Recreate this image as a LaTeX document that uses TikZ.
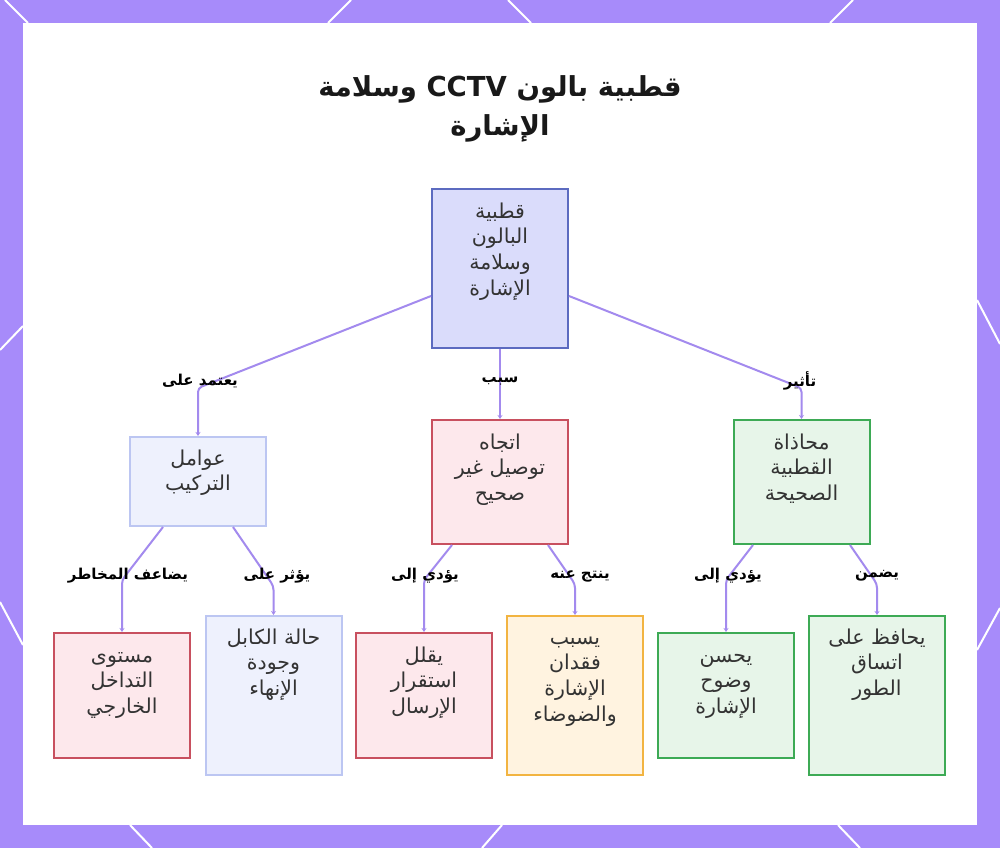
\documentclass[tikz,border=0pt]{standalone}
\usepackage{fontspec}
\newfontfamily\arabicfont[Script=Arabic]{DejaVu Sans}
\TeXXeTstate=1
\usetikzlibrary{arrows.meta}
\definecolor{framec}{HTML}{A78BFA}
\definecolor{linec}{HTML}{A38AEE}
\definecolor{rootfill}{HTML}{DADCFB}
\definecolor{rootdraw}{HTML}{5C6BC0}
\definecolor{bluefill}{HTML}{EEF1FD}
\definecolor{bluedraw}{HTML}{BCC6F2}
\definecolor{pinkfill}{HTML}{FDE8EC}
\definecolor{reddraw}{HTML}{C8505F}
\definecolor{greenfill}{HTML}{E7F5E9}
\definecolor{greendraw}{HTML}{3DAA55}
\definecolor{orangefill}{HTML}{FFF3E0}
\definecolor{orangedraw}{HTML}{F2B441}
\definecolor{textc}{HTML}{333333}
\newcommand{\ar}[1]{\beginR #1\endR}
\newcommand{\fl}{\rule{0pt}{16pt}}
\tikzset{
  boxbase/.style={draw, line width=2pt, minimum width=136pt, inner sep=0pt},
  rootbox/.style={boxbase, fill=rootfill, draw=rootdraw},
  bluebox/.style={boxbase, fill=bluefill, draw=bluedraw},
  pinkbox/.style={boxbase, fill=pinkfill, draw=reddraw},
  greenbox/.style={boxbase, fill=greenfill, draw=greendraw},
  orangebox/.style={boxbase, fill=orangefill, draw=orangedraw},
  txt/.style={font=\arabicfont\fontsize{20.5}{25.7}\selectfont, align=center, anchor=north, inner sep=0pt, text=textc},
  elab/.style={font=\arabicfont\bfseries\fontsize{15}{17}\selectfont, inner sep=1pt, text=black},
  titlestyle/.style={font=\arabicfont\bfseries\fontsize{27.5}{39}\selectfont, align=center, inner sep=0pt, text=black!90},
  conn/.style={draw=linec, line width=2pt, rounded corners=4pt, -{Stealth[length=4pt,width=5pt]}},
  deco/.style={draw=white, line width=2pt}
}
\begin{document}
\begin{tikzpicture}[x=1pt,y=-1pt]
\useasboundingbox (0,0) rectangle (1000,848);
\fill[framec] (0,0) rectangle (1000,848);
% frame decorations
\draw[deco] (5,0) -- (28,23);
\draw[deco] (351,0) -- (328,23);
\draw[deco] (508,0) -- (531,23);
\draw[deco] (853,0) -- (830,23);
\draw[deco] (0,350) -- (23,326);
\draw[deco] (0,602) -- (23,645);
\draw[deco] (977,300) -- (1000,344);
\draw[deco] (977,650) -- (1000,608);
\draw[deco] (130,825) -- (152,848);
\draw[deco] (502,825) -- (482,848);
\draw[deco] (838,825) -- (860,848);
\fill[white] (23,23) rectangle (977,825);

% title
\node[titlestyle] (title) at (500,109) {\ar{قطبية بالون \beginL CCTV\endL{} وسلامة}\\\ar{الإشارة}};

% boxes
\node[rootbox, minimum height=159pt] (root) at (500,268.5) {};
\node[bluebox, minimum height=89pt] (inst) at (198,481.5) {};
\node[pinkbox, minimum height=124pt] (wrong) at (500,482) {};
\node[greenbox, minimum height=124pt] (right) at (801.5,482) {};
\node[pinkbox, minimum height=125pt] (l1) at (122,695.5) {};
\node[bluebox, minimum height=159pt] (l2) at (273.5,695.5) {};
\node[pinkbox, minimum height=125pt] (l3) at (424,695.5) {};
\node[orangebox, minimum height=159pt] (l4) at (575,695.5) {};
\node[greenbox, minimum height=125pt] (l5) at (726,695.5) {};
\node[greenbox, minimum height=159pt] (l6) at (877,695.5) {};

% texts
\node[txt] (rootT) at (500,202) {\fl\ar{قطبية}\\\ar{البالون}\\\ar{وسلامة}\\\ar{الإشارة}};
\node[txt] (instT) at (198,449) {\fl\ar{عوامل}\\\ar{التركيب}};
\node[txt] (wrongT) at (500,433) {\fl\ar{اتجاه}\\\ar{توصيل غير}\\\ar{صحيح}};
\node[txt] (rightT) at (801.5,433) {\fl\ar{محاذاة}\\\ar{القطبية}\\\ar{الصحيحة}};
\node[txt] (l1T) at (122,646) {\fl\ar{مستوى}\\\ar{التداخل}\\\ar{الخارجي}};
\node[txt] (l2T) at (273.5,628) {\fl\ar{حالة الكابل}\\\ar{وجودة}\\\ar{الإنهاء}};
\node[txt] (l3T) at (424,646) {\fl\ar{يقلل}\\\ar{استقرار}\\\ar{الإرسال}};
\node[txt] (l4T) at (575,628) {\fl\ar{يسبب}\\\ar{فقدان}\\\ar{الإشارة}\\\ar{والضوضاء}};
\node[txt] (l5T) at (726,646) {\fl\ar{يحسن}\\\ar{وضوح}\\\ar{الإشارة}};
\node[txt] (l6T) at (877,628) {\fl\ar{يحافظ على}\\\ar{اتساق}\\\ar{الطور}};

% bend coordinates
\coordinate (b1) at (198,388);
\coordinate (b3) at (801.5,388);
\coordinate (b4) at (122,580);
\coordinate (b5) at (273.5,586);
\coordinate (b6) at (424,580);
\coordinate (b7) at (575,584);
\coordinate (b8) at (726,580);
\coordinate (b9) at (877,584);

% connectors
\draw[conn] ([yshift=-27.5pt]root.west) -- (b1) -- (inst.north);
\draw[conn] (root.south) -- (wrong.north);
\draw[conn] ([yshift=-27.5pt]root.east) -- (b3) -- (right.north);
\draw[conn] ([xshift=-35pt]inst.south) -- (b4) -- (l1.north);
\draw[conn] ([xshift=35pt]inst.south) -- (b5) -- (l2.north);
\draw[conn] ([xshift=-48pt]wrong.south) -- (b6) -- (l3.north);
\draw[conn] ([xshift=48pt]wrong.south) -- (b7) -- (l4.north);
\draw[conn] ([xshift=-48.5pt]right.south) -- (b8) -- (l5.north);
\draw[conn] ([xshift=48.5pt]right.south) -- (b9) -- (l6.north);

% edge labels
\node[elab] (e1) at (200,381) {\ar{يعتمد على}};
\node[elab] (e2) at (500,381) {\ar{سبب}};
\node[elab] (e3) at (800,381) {\ar{تأثير}};
\node[elab] (e4) at (128,576) {\ar{يضاعف المخاطر}};
\node[elab] (e5) at (277,576) {\ar{يؤثر على}};
\node[elab] (e6) at (425,576) {\ar{يؤدي إلى}};
\node[elab] (e7) at (580,576) {\ar{ينتج عنه}};
\node[elab] (e8) at (728,576) {\ar{يؤدي إلى}};
\node[elab] (e9) at (877,576) {\ar{يضمن}};
\end{tikzpicture}
\end{document}
